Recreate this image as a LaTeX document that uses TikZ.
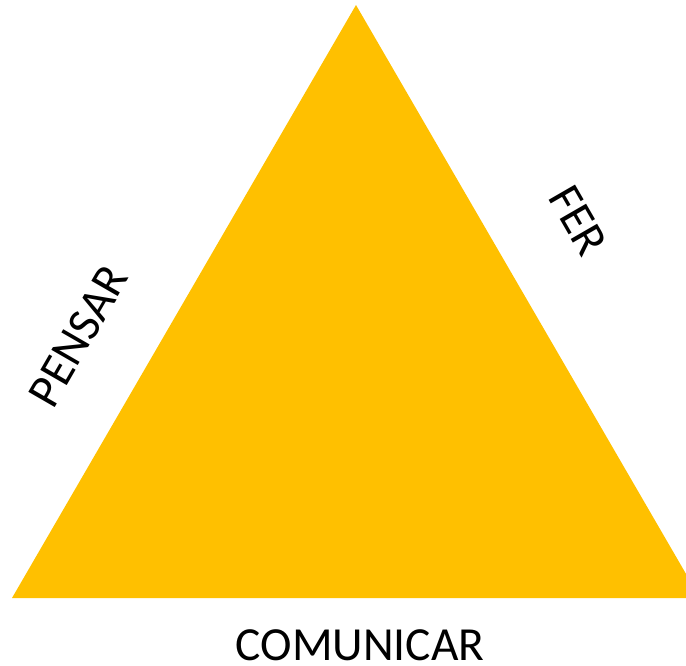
\documentclass[tikz,border=0pt]{standalone}
\usepackage{fontspec}
\setmainfont{Carlito}
\definecolor{tri}{HTML}{FFC000}
\begin{document}
\begin{tikzpicture}[x=1pt,y=-1pt,
  lbl/.style={inner sep=0pt,font=\fontsize{47.5}{50}\selectfont,text depth=0pt,anchor=center}]
\useasboundingbox (0,0) rectangle (686,665);
\coordinate (apex) at (356,5);
\coordinate (bl) at (12,598);
\coordinate (br) at (700,598);
\begin{scope}
\clip (0,0) rectangle (686,665);
\fill[tri] (apex) -- (br) -- (bl) -- cycle;
\end{scope}
\node[lbl,rotate=60] (pensar) at (78,336) {PENSAR};
\node[lbl,rotate=-60] (fer) at (578,221) {FER};
\node[lbl] (com) at (360,645) {COMUNICAR};
\end{tikzpicture}
\end{document}
